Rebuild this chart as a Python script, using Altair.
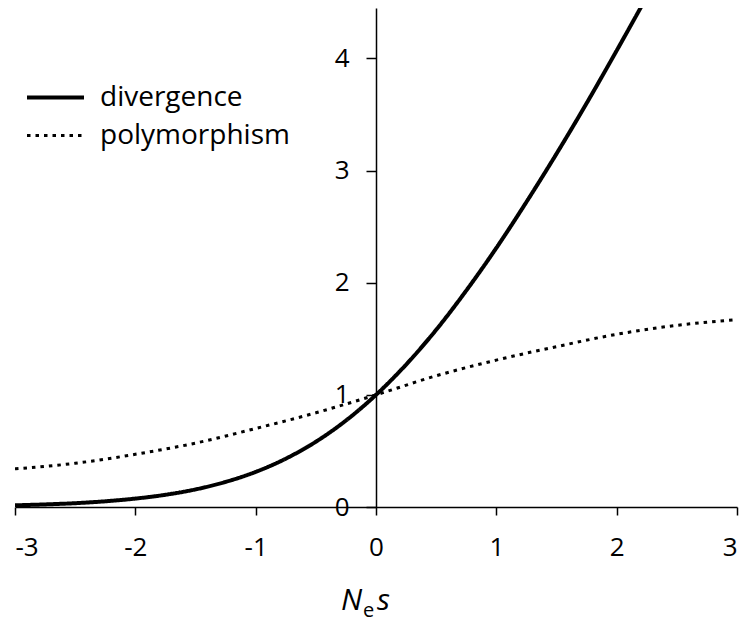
import altair as alt
import pandas as pd

# divergence curve
div_x = [-3, -2.75, -2.5, -2.25, -2, -1.75, -1.5, -1.25, -1, -0.75, -0.5, -0.25,
         0, 0.25, 0.5, 0.75, 1, 1.25, 1.5, 1.75, 2, 2.25]
div_y = [0.015, 0.023, 0.034, 0.051, 0.075, 0.109, 0.157, 0.224, 0.313, 0.431, 0.582, 0.771,
         1.00, 1.27, 1.58, 1.93, 2.31, 2.72, 3.15, 3.60, 4.07, 4.55]

# polymorphism curve
poly_x = [-3, -2.5, -2, -1.5, -1, -0.5, 0, 0.5, 1, 1.5, 2, 2.5, 3]
poly_y = [0.34, 0.39, 0.47, 0.57, 0.70, 0.84, 1.00, 1.17, 1.31, 1.43, 1.54, 1.62, 1.67]

series_names = ["divergence", "polymorphism"]
x_ticks = [-3, -2, -1, 0, 1, 2, 3]
y_ticks = [0, 1, 2, 3, 4]

rows = [{"Nes": x, "value": y, "series": "divergence"} for x, y in zip(div_x, div_y)]
rows += [{"Nes": x, "value": y, "series": "polymorphism"} for x, y in zip(poly_x, poly_y)]
df = pd.DataFrame(rows)

FONT = "Open Sans"

leg = alt.Legend(
    title=None, orient="none", legendX=10, legendY=77,
    symbolType="stroke", symbolSize=3249, symbolStrokeColor="#000",
    clipHeight=25,
    labelFont=FONT, labelFontSize=28, labelColor="#000", labelLimit=0,
    labelOffset=14, rowPadding=9, padding=0,
)

x_enc = alt.X(
    "Nes:Q",
    scale=alt.Scale(domain=[-3, 3], nice=False, zero=False),
    axis=alt.Axis(
        values=x_ticks, title=None, labelExpr="'' + datum.value", grid=False,
        domainColor="#000", domainWidth=1.5, tickColor="#000", tickWidth=1.5,
        tickSize=8, labelFont=FONT, labelFontSize=26, labelColor="#000",
        labelPadding=19,
    ),
)
y_enc = alt.Y(
    "value:Q",
    scale=alt.Scale(domain=[0, 4.45], nice=False),
    axis=alt.Axis(
        values=y_ticks, title=None, labelExpr="'' + datum.value", grid=False,
        offset=-361, domainColor="#000", domainWidth=1.5, tickColor="#000",
        tickWidth=1.5, tickSize=10, labelFont=FONT, labelFontSize=26,
        labelColor="#000", labelPadding=17,
    ),
)

lines = alt.Chart(df).mark_line(color="black", clip=True, interpolate="monotone").encode(
    x=x_enc,
    y=y_enc,
    strokeDash=alt.StrokeDash(
        "series:N",
        scale=alt.Scale(domain=series_names, range=[[1, 0], [3.5, 5]]),
        legend=leg,
    ),
    strokeWidth=alt.StrokeWidth(
        "series:N",
        scale=alt.Scale(domain=series_names, range=[4, 3]),
        legend=leg,
    ),
)


def label(txt, x, y, size, italic):
    props = dict(font=FONT, fontSize=size, align="left", baseline="alphabetic", color="black")
    if italic:
        props["fontStyle"] = "italic"
    return alt.Chart(pd.DataFrame({"t": [txt]})).mark_text(**props).encode(
        x=alt.value(x), y=alt.value(y), text="t:N"
    )


tN = label("N", 326, 602, 30, True)
te = label("e", 348, 609, 20, False)
ts = label("s", 362, 602, 30, True)

chart = alt.layer(lines, tN, te, ts).properties(
    width=722, height=499,
    autosize=alt.AutoSizeParams(type="none"),
    padding={"left": 7, "top": 0, "right": 2, "bottom": 119},
).configure_view(stroke=None)

chart.save("out.html", embed_options={"renderer": "svg", "actions": False})
